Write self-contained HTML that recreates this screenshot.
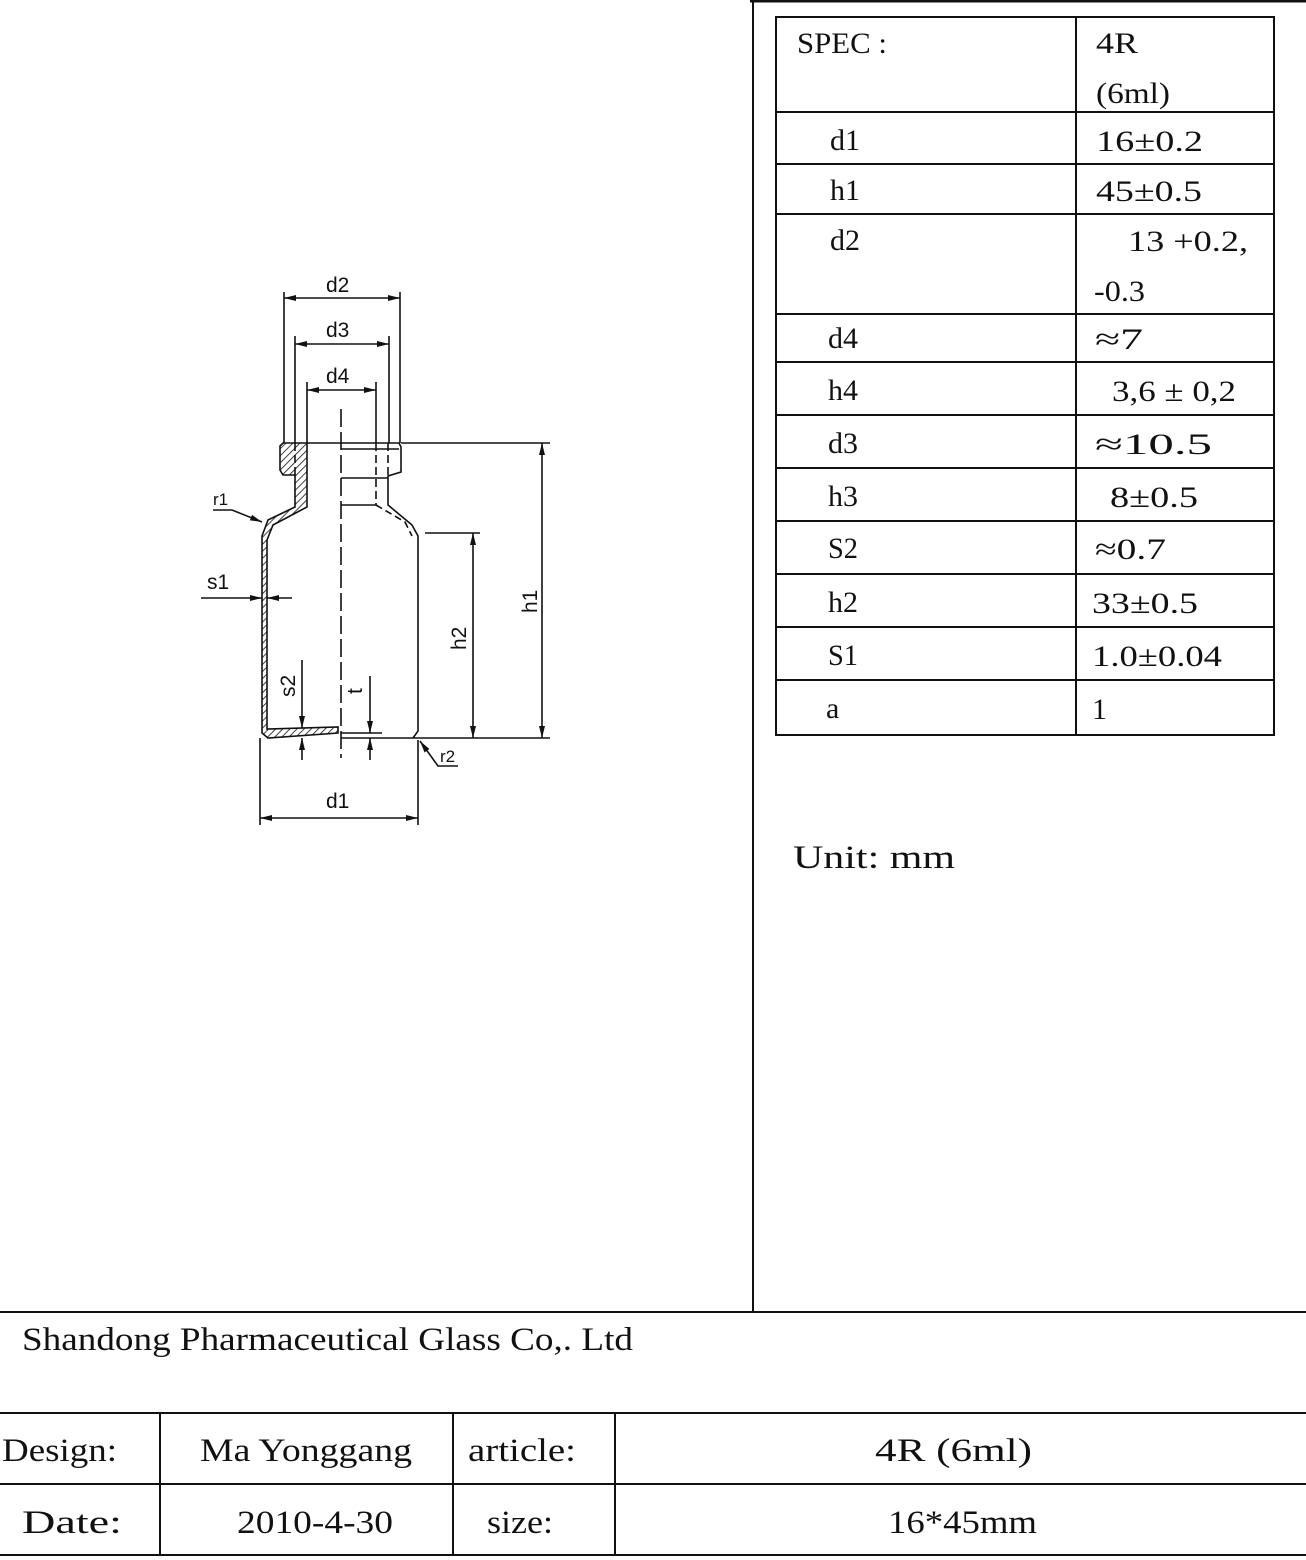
<!DOCTYPE html>
<html><head><meta charset="utf-8"><style>
html,body{margin:0;padding:0;background:#fff;}
svg{display:block;}
.s{font-family:"Liberation Serif",serif;fill:#111;}
.a{font-family:"Liberation Sans","DejaVu Sans",sans-serif;fill:#111;font-size:21px;}
</style></head><body>
<svg width="1306" height="1560" viewBox="0 0 1306 1560" xmlns="http://www.w3.org/2000/svg">
<defs>
<marker id="ar" viewBox="0 0 12 6" refX="12" refY="3" markerWidth="12" markerHeight="6" orient="auto-start-reverse" markerUnits="userSpaceOnUse"><path d="M0,0L12,3L0,6z" fill="#111"/></marker>
<pattern id="hat" width="5" height="5" patternUnits="userSpaceOnUse" patternTransform="rotate(45)"><line x1="0" y1="0" x2="0" y2="5" stroke="#111" stroke-width="1.6"/></pattern>
</defs>
<rect width="1306" height="1560" fill="#fff"/>
<line x1="750" y1="1" x2="1306" y2="1" stroke="#111" stroke-width="3"/>
<line x1="753" y1="0" x2="753" y2="1312" stroke="#111" stroke-width="2"/>
<line x1="0" y1="1312" x2="1306" y2="1312" stroke="#111" stroke-width="2"/>
<g stroke="#111" stroke-width="2" fill="none">
<rect x="776" y="17" width="498" height="718"/>
<line x1="1076" y1="17" x2="1076" y2="735"/>
<line x1="776" y1="112" x2="1274" y2="112"/>
<line x1="776" y1="164" x2="1274" y2="164"/>
<line x1="776" y1="214" x2="1274" y2="214"/>
<line x1="776" y1="314" x2="1274" y2="314"/>
<line x1="776" y1="362" x2="1274" y2="362"/>
<line x1="776" y1="415" x2="1274" y2="415"/>
<line x1="776" y1="468" x2="1274" y2="468"/>
<line x1="776" y1="521" x2="1274" y2="521"/>
<line x1="776" y1="574" x2="1274" y2="574"/>
<line x1="776" y1="627" x2="1274" y2="627"/>
<line x1="776" y1="680" x2="1274" y2="680"/>
</g>
<g class="s" font-size="30">
<text x="797" y="53" textLength="90" lengthAdjust="spacingAndGlyphs">SPEC :</text>
<text x="1096" y="53" textLength="42" lengthAdjust="spacingAndGlyphs">4R</text>
<text x="1096" y="103" textLength="74" lengthAdjust="spacingAndGlyphs">(6ml)</text>
<text x="830" y="150" textLength="30" lengthAdjust="spacingAndGlyphs">d1</text><text x="1096" y="151" textLength="107" lengthAdjust="spacingAndGlyphs">16±0.2</text>
<text x="830" y="200" textLength="30" lengthAdjust="spacingAndGlyphs">h1</text><text x="1096" y="201" textLength="106" lengthAdjust="spacingAndGlyphs">45±0.5</text>
<text x="830" y="250" textLength="30" lengthAdjust="spacingAndGlyphs">d2</text><text x="1128" y="251" textLength="120" lengthAdjust="spacingAndGlyphs">13 +0.2,</text>
<text x="1094" y="301" textLength="51" lengthAdjust="spacingAndGlyphs">-0.3</text>
<text x="828" y="348" textLength="30" lengthAdjust="spacingAndGlyphs">d4</text><text x="1095" y="349" textLength="48" lengthAdjust="spacingAndGlyphs">≈7</text>
<text x="828" y="400" textLength="30" lengthAdjust="spacingAndGlyphs">h4</text><text x="1112" y="401" textLength="124" lengthAdjust="spacingAndGlyphs">3,6 ± 0,2</text>
<text x="828" y="453" textLength="30" lengthAdjust="spacingAndGlyphs">d3</text><text x="1095" y="454" textLength="117" lengthAdjust="spacingAndGlyphs">≈10.5</text>
<text x="828" y="506" textLength="30" lengthAdjust="spacingAndGlyphs">h3</text><text x="1110" y="507" textLength="88" lengthAdjust="spacingAndGlyphs">8±0.5</text>
<text x="828" y="558" textLength="30" lengthAdjust="spacingAndGlyphs">S2</text><text x="1095" y="559" textLength="71" lengthAdjust="spacingAndGlyphs">≈0.7</text>
<text x="828" y="612" textLength="30" lengthAdjust="spacingAndGlyphs">h2</text><text x="1092" y="613" textLength="106" lengthAdjust="spacingAndGlyphs">33±0.5</text>
<text x="828" y="665" textLength="30" lengthAdjust="spacingAndGlyphs">S1</text><text x="1092" y="666" textLength="130" lengthAdjust="spacingAndGlyphs">1.0±0.04</text>
<text x="826" y="718">a</text><text x="1092" y="719">1</text>
</g>
<text class="s" x="793" y="868" font-size="33" textLength="162" lengthAdjust="spacingAndGlyphs">Unit:  mm</text>
<text class="s" x="22" y="1350" font-size="33" textLength="611" lengthAdjust="spacingAndGlyphs">Shandong Pharmaceutical Glass Co,. Ltd</text>
<g stroke="#111" stroke-width="2">
<line x1="0" y1="1413" x2="1306" y2="1413"/>
<line x1="0" y1="1484" x2="1306" y2="1484"/>
<line x1="0" y1="1555" x2="1306" y2="1555"/>
<line x1="160" y1="1413" x2="160" y2="1555"/>
<line x1="453" y1="1413" x2="453" y2="1555"/>
<line x1="615" y1="1413" x2="615" y2="1555"/>
</g>
<g class="s" font-size="33">
<text x="2" y="1461" textLength="115" lengthAdjust="spacingAndGlyphs">Design:</text>
<text x="200" y="1461" textLength="212" lengthAdjust="spacingAndGlyphs">Ma Yonggang</text>
<text x="468" y="1461" textLength="108" lengthAdjust="spacingAndGlyphs">article:</text>
<text x="875" y="1461" textLength="157" lengthAdjust="spacingAndGlyphs">4R (6ml)</text>
<text x="22" y="1533" textLength="100" lengthAdjust="spacingAndGlyphs">Date:</text>
<text x="237" y="1533" textLength="156" lengthAdjust="spacingAndGlyphs">2010-4-30</text>
<text x="487" y="1533" textLength="66" lengthAdjust="spacingAndGlyphs">size:</text>
<text x="888" y="1533" textLength="149" lengthAdjust="spacingAndGlyphs">16*45mm</text>
</g>
<g stroke="#111" stroke-width="1.6" fill="none">
<path d="M283,443 L307,443 L307,507 L273,525 L267,540 L267,729 L338,727 L338,733 L268,738 L262,733 L262,536 L268,520 L295,507 L295,475 L283,475 L280,470 L280,446 Z" fill="url(#hat)"/>
<path d="M307,443 L399,443 L401,447 L401,472 L388,476 L388,505 L412,525 L418,536 L418,731 L413,738"/>
<line x1="341" y1="449" x2="399" y2="449"/>
<line x1="341" y1="478" x2="388" y2="478"/>
<line x1="341" y1="505" x2="376" y2="505"/>
<path d="M376,505 L405,522 L412,536" stroke-dasharray="7,4"/>
<line x1="376" y1="443" x2="376" y2="505" stroke-dasharray="8,4"/>
<line x1="388" y1="443" x2="388" y2="476" stroke-dasharray="8,4"/>
<line x1="295" y1="443" x2="295" y2="475" stroke-dasharray="8,4"/>
<line x1="341" y1="409" x2="341" y2="758" stroke-dasharray="18,5"/>
<line x1="341" y1="738" x2="418" y2="738"/>
<line x1="341" y1="733" x2="382" y2="733"/>
<line x1="284" y1="292" x2="284" y2="443"/>
<line x1="400" y1="292" x2="400" y2="443"/>
<line x1="295" y1="336" x2="295" y2="443"/>
<line x1="389" y1="336" x2="389" y2="443"/>
<line x1="307" y1="382" x2="307" y2="443"/>
<line x1="376" y1="382" x2="376" y2="443"/>
<line x1="401" y1="443" x2="550" y2="443"/>
<line x1="418" y1="738" x2="550" y2="738"/>
<line x1="425" y1="533" x2="480" y2="533"/>
<line x1="260" y1="738" x2="260" y2="825"/>
<line x1="418" y1="740" x2="418" y2="825"/>
<line x1="284" y1="298" x2="400" y2="298" marker-start="url(#ar)" marker-end="url(#ar)"/>
<line x1="295" y1="344" x2="389" y2="344" marker-start="url(#ar)" marker-end="url(#ar)"/>
<line x1="307" y1="390" x2="376" y2="390" marker-start="url(#ar)" marker-end="url(#ar)"/>
<line x1="542" y1="443" x2="542" y2="738" marker-start="url(#ar)" marker-end="url(#ar)"/>
<line x1="473" y1="533" x2="473" y2="738" marker-start="url(#ar)" marker-end="url(#ar)"/>
<line x1="260" y1="818" x2="418" y2="818" marker-start="url(#ar)" marker-end="url(#ar)"/>
<line x1="201" y1="598" x2="262" y2="598" marker-end="url(#ar)"/>
<line x1="292" y1="598" x2="267" y2="598" marker-end="url(#ar)"/>
<line x1="302" y1="660" x2="302" y2="728" marker-end="url(#ar)"/>
<line x1="302" y1="760" x2="302" y2="738" marker-end="url(#ar)"/>
<line x1="370" y1="676" x2="370" y2="733" marker-end="url(#ar)"/>
<line x1="370" y1="760" x2="370" y2="738" marker-end="url(#ar)"/>
<path d="M213,510 L232,510 L262,522" marker-end="url(#ar)"/>
<path d="M458,766 L438,766 L420,741" marker-end="url(#ar)"/>
</g>
<g class="a">
<text x="326" y="292">d2</text>
<text x="326" y="337">d3</text>
<text x="326" y="383">d4</text>
<text x="326" y="808">d1</text>
<text x="207" y="589">s1</text>
<text x="213" y="505" font-size="17">r1</text>
<text x="440" y="762" font-size="17">r2</text>
<text transform="translate(537,613) rotate(-90)">h1</text>
<text transform="translate(466,650) rotate(-90)">h2</text>
<text transform="translate(295,697) rotate(-90)">s2</text>
<text transform="translate(362,694) rotate(-90)">t</text>
</g>
</svg>
</body></html>
